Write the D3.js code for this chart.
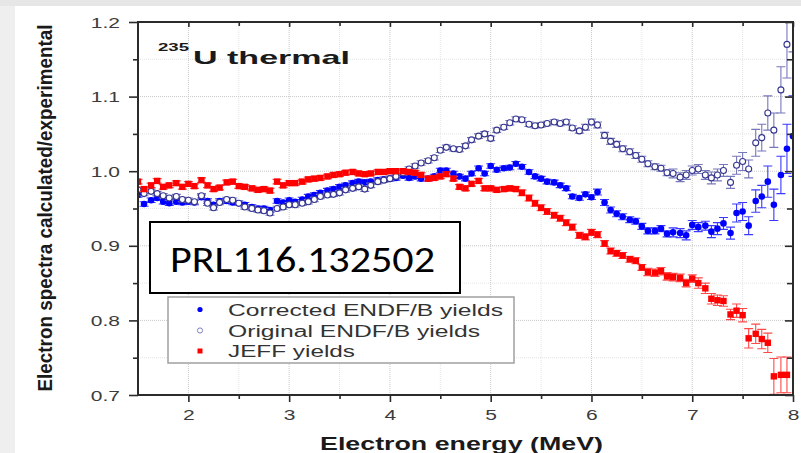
<!DOCTYPE html>
<html>
<head>
<meta charset="utf-8">
<script src="https://cdn.jsdelivr.net/npm/d3@7"></script>
<style>
  body { margin: 0; background: #e6e6e6; }
  svg { display: block; font-family: "Liberation Sans", Arial, sans-serif; }
</style>
</head>
<body>
<div id="svgRoot"></div>
<script>
// bin centres (MeV)
const energy = [1.5,1.56,1.63,1.69,1.75,1.81,1.88,1.94,
  2,2.06,2.13,2.19,2.25,2.31,2.38,2.44,2.5,2.56,2.63,2.69,2.75,2.81,2.88,2.94,
  3,3.06,3.13,3.19,3.25,3.31,3.38,3.44,3.5,3.56,3.63,3.69,3.75,3.81,3.88,3.94,
  4,4.06,4.13,4.19,4.25,4.31,4.38,4.44,4.5,4.56,4.63,4.69,4.75,4.81,4.88,4.94,
  5,5.06,5.13,5.19,5.25,5.31,5.38,5.44,5.5,5.56,5.63,5.69,5.75,5.81,5.88,5.94,
  6,6.06,6.13,6.19,6.25,6.31,6.38,6.44,6.5,6.56,6.63,6.69,6.75,6.81,6.88,6.94,
  7,7.06,7.13,7.19,7.25,7.31,7.38,7.44,7.5,7.56,7.63,7.69,7.75,7.81,7.88,7.94,8];

// corrected ENDF/B yields
const corrected = [0.968,0.956,0.961,0.964,0.959,0.957,0.959,0.958,0.959,0.958,
  0.965,0.960,0.955,0.960,0.960,0.958,0.957,0.955,0.952,0.950,
  0.950,0.948,0.960,0.958,0.961,0.959,0.962,0.966,0.968,0.971,
  0.974,0.976,0.979,0.981,0.984,0.986,0.985,0.986,0.988,0.989,
  0.990,0.991,0.994,0.991,0.993,0.990,0.990,0.993,1.001,1.001,
  0.997,0.993,0.990,0.997,1.004,0.997,1.007,1.002,1.004,1.005,
  1.010,1.006,0.999,0.993,0.990,0.986,0.985,0.981,0.977,0.966,
  0.964,0.969,0.965,0.972,0.958,0.948,0.943,0.939,0.935,0.933,
  0.926,0.920,0.920,0.923,0.916,0.918,0.917,0.914,0.928,0.925,
  0.927,0.919,0.923,0.930,0.917,0.944,0.946,0.927,0.960,0.966,
  0.986,0.955,0.995,1.030,1.047];
const correctedErr = [0.003,0.003,0.003,0.003,0.003,0.003,0.003,0.003,0.003,0.003,
  0.003,0.003,0.003,0.003,0.003,0.003,0.003,0.003,0.003,0.003,
  0.003,0.003,0.003,0.003,0.003,0.003,0.003,0.003,0.003,0.003,
  0.003,0.003,0.003,0.003,0.003,0.003,0.003,0.003,0.003,0.003,
  0.003,0.003,0.003,0.003,0.003,0.003,0.003,0.003,0.003,0.003,
  0.003,0.003,0.003,0.003,0.003,0.003,0.003,0.003,0.003,0.003,
  0.003,0.003,0.003,0.003,0.003,0.003,0.003,0.003,0.003,0.003,
  0.003,0.003,0.003,0.004,0.004,0.004,0.004,0.004,0.004,0.004,
  0.004,0.004,0.004,0.004,0.004,0.006,0.006,0.006,0.006,0.006,
  0.006,0.008,0.008,0.008,0.008,0.012,0.012,0.012,0.015,0.015,
  0.021,0.021,0.025,0.033,0.054];

// original ENDF/B yields
const original = [0.975,0.970,0.973,0.970,0.967,0.964,0.966,0.962,0.961,0.959,
  0.967,0.957,0.951,0.958,0.962,0.961,0.957,0.952,0.950,0.948,
  0.947,0.944,0.950,0.952,0.955,0.955,0.957,0.959,0.962,0.966,
  0.968,0.969,0.971,0.975,0.977,0.979,0.976,0.981,0.986,0.988,
  0.990,0.993,0.998,1.003,1.007,1.011,1.014,1.018,1.028,1.032,
  1.030,1.029,1.034,1.042,1.047,1.050,1.044,1.055,1.059,1.065,
  1.070,1.069,1.063,1.061,1.062,1.064,1.066,1.064,1.066,1.058,
  1.054,1.059,1.066,1.062,1.048,1.040,1.036,1.030,1.026,1.021,
  1.016,1.010,1.006,1.004,0.998,0.997,0.992,0.995,1.001,1.003,
  0.995,0.991,0.995,1.001,0.985,1.008,1.013,1.003,1.038,1.045,
  1.078,1.055,1.109,1.170,1.220];
const originalErr = [0.003,0.003,0.003,0.003,0.003,0.003,0.003,0.003,0.003,0.003,
  0.003,0.003,0.003,0.003,0.003,0.003,0.003,0.003,0.003,0.003,
  0.003,0.003,0.003,0.003,0.003,0.003,0.003,0.003,0.003,0.003,
  0.003,0.003,0.003,0.003,0.003,0.003,0.003,0.003,0.003,0.003,
  0.003,0.003,0.003,0.003,0.003,0.003,0.003,0.003,0.003,0.003,
  0.003,0.003,0.003,0.003,0.003,0.003,0.003,0.003,0.003,0.003,
  0.003,0.003,0.003,0.003,0.003,0.003,0.003,0.003,0.003,0.003,
  0.003,0.004,0.004,0.004,0.004,0.004,0.004,0.004,0.004,0.004,
  0.004,0.004,0.004,0.004,0.004,0.006,0.006,0.006,0.006,0.006,
  0.006,0.008,0.008,0.008,0.008,0.012,0.012,0.012,0.018,0.018,
  0.023,0.023,0.031,0.045,0.060];

// JEFF yields
const jeff = [0.986,0.976,0.981,0.987,0.979,0.981,0.984,0.979,0.983,0.980,
  0.988,0.981,0.976,0.978,0.985,0.986,0.980,0.979,0.977,0.975,
  0.976,0.974,0.986,0.981,0.984,0.984,0.986,0.989,0.990,0.991,
  0.993,0.995,0.996,0.998,0.999,0.997,0.996,0.997,0.999,0.999,
  1.000,1.000,1.000,0.999,0.998,0.995,0.990,0.991,0.993,0.996,
  0.990,0.979,0.977,0.983,0.987,0.977,0.977,0.975,0.976,0.977,
  0.976,0.971,0.964,0.957,0.951,0.946,0.941,0.937,0.931,0.925,
  0.914,0.912,0.918,0.915,0.903,0.893,0.890,0.887,0.882,0.880,
  0.871,0.865,0.864,0.866,0.859,0.858,0.857,0.850,0.856,0.850,
  0.843,0.829,0.827,0.826,0.808,0.813,0.807,0.776,0.782,0.775,
  0.770,0.725,0.727,0.727,null];
const jeffErr = [0.003,0.003,0.003,0.003,0.003,0.003,0.003,0.003,0.003,0.003,
  0.003,0.003,0.003,0.003,0.003,0.003,0.003,0.003,0.003,0.003,
  0.003,0.003,0.003,0.003,0.003,0.003,0.003,0.003,0.003,0.003,
  0.003,0.003,0.003,0.003,0.003,0.003,0.003,0.003,0.003,0.003,
  0.003,0.003,0.003,0.003,0.003,0.003,0.003,0.003,0.003,0.003,
  0.003,0.003,0.003,0.003,0.003,0.003,0.003,0.003,0.003,0.003,
  0.003,0.004,0.004,0.004,0.004,0.004,0.004,0.004,0.004,0.004,
  0.004,0.004,0.004,0.004,0.004,0.004,0.004,0.004,0.004,0.004,
  0.004,0.005,0.005,0.005,0.005,0.005,0.005,0.005,0.005,0.007,
  0.007,0.007,0.007,0.007,0.007,0.009,0.009,0.013,0.013,0.013,
  0.013,0.024,0.024,0.024,null];

const xTicks = [2, 3, 4, 5, 6, 7, 8];
const xMinor = [2.5, 3.5, 4.5, 5.5, 6.5, 7.5];
const yTicks = [0.7, 0.8, 0.9, 1.0, 1.1, 1.2];
const yMinor = [0.75, 0.85, 0.95, 1.05, 1.15];
const legendLabels = ["Corrected ENDF/B yields", "Original ENDF/B yields", "JEFF yields"];

drawChart();

function drawChart() {
  var W = 801, H = 453;
  var left = 138, right = 793, top = 22, bottom = 395;

  var svg = d3.select("#svgRoot").append("svg")
    .attr("width", W).attr("height", H);

  // slide background + white picture
  svg.append("rect").attr("width", W).attr("height", H).attr("fill", "#e6e6e6");
  svg.append("rect").attr("x", 0).attr("y", 6).attr("width", 15).attr("height", H - 6).attr("fill", "#efefef");
  svg.append("rect").attr("x", 15).attr("y", 6).attr("width", W - 15).attr("height", H - 6).attr("fill", "#fff");

  var x = d3.scaleLinear().domain([1.5, 8]).range([left, right]);
  var y = d3.scaleLinear().domain([0.7, 1.2]).range([bottom, top]);

  // stretch horizontal text like the original (figure was squeezed wide)
  function stretch(sel, k) {
    sel.each(function () {
      var w = this.getComputedTextLength();
      d3.select(this).attr("textLength", w * k).attr("lengthAdjust", "spacingAndGlyphs");
    });
  }

  // grid
  var grid = svg.append("g");
  grid.selectAll(".gxm").data(xMinor).enter().append("line")
    .attr("x1", d => x(d)).attr("x2", d => x(d)).attr("y1", top).attr("y2", bottom)
    .attr("stroke", "#e4e4e4").attr("stroke-dasharray", "1,1");
  grid.selectAll(".gym").data(yMinor).enter().append("line")
    .attr("y1", d => y(d)).attr("y2", d => y(d)).attr("x1", left).attr("x2", right)
    .attr("stroke", "#e4e4e4").attr("stroke-dasharray", "1,1");
  grid.selectAll(".gx").data(xTicks.slice(0, -1)).enter().append("line")
    .attr("x1", d => x(d)).attr("x2", d => x(d)).attr("y1", top).attr("y2", bottom)
    .attr("stroke", "#c8c8c8").attr("stroke-dasharray", "1,1");
  grid.selectAll(".gy").data(yTicks.slice(1, -1)).enter().append("line")
    .attr("y1", d => y(d)).attr("y2", d => y(d)).attr("x1", left).attr("x2", right)
    .attr("stroke", "#c8c8c8").attr("stroke-dasharray", "1,1");

  // series
  var series = [
    { name: legendLabels[0], values: corrected, err: correctedErr, color: "#0000ff", bar: "#3a3aff", kind: "dot" },
    { name: legendLabels[1], values: original, err: originalErr, color: "#35358f", bar: "#7777bb", kind: "open" },
    { name: legendLabels[2], values: jeff, err: jeffErr, color: "#ff0000", bar: "#ff4a4a", kind: "square" }
  ];

  svg.append("clipPath").attr("id", "plotClip")
    .append("rect").attr("x", left).attr("y", top).attr("width", right - left).attr("height", bottom - top);

  var plot = svg.append("g").attr("clip-path", "url(#plotClip)");

  series.forEach(function (s) {
    var pts = energy.map((e, i) => ({ e: e, v: s.values[i], err: s.err[i] }))
      .filter(d => d.v != null);
    var g = plot.append("g");
    var cap = 4.5;
    g.selectAll(".eb").data(pts).enter().append("path")
      .attr("d", d => {
        var xx = x(d.e), y1 = y(d.v - d.err), y2 = y(d.v + d.err);
        return "M" + xx + "," + y1 + "V" + y2 +
          "M" + (xx - cap) + "," + y1 + "H" + (xx + cap) +
          "M" + (xx - cap) + "," + y2 + "H" + (xx + cap);
      })
      .attr("fill", "none").attr("stroke", s.bar).attr("stroke-width", 1.1);
    if (s.kind == "square") {
      g.selectAll(".pt").data(pts).enter().append("rect")
        .attr("x", d => x(d.e) - 3.2).attr("y", d => y(d.v) - 3.2)
        .attr("width", 6.4).attr("height", 6.4).attr("fill", s.color);
    } else {
      g.selectAll(".pt").data(pts).enter().append("circle")
        .attr("cx", d => x(d.e)).attr("cy", d => y(d.v)).attr("r", s.kind == "open" ? 3 : 3.3)
        .attr("fill", s.kind == "open" ? "#fff" : s.color)
        .attr("stroke", s.color).attr("stroke-width", s.kind == "open" ? 1.1 : 0);
    }
  });

  // axes
  var axisColor = "#2b2b2b";
  function styleAxis(g) {
    g.select(".domain").remove();
    g.selectAll("line").attr("stroke", axisColor).attr("stroke-width", 1.6);
    g.selectAll("text").attr("fill", "#3c3c3c").style("font-size", "14px")
      .style("font-family", '"Liberation Sans", Arial, sans-serif');
  }

  var gl = svg.append("g").attr("transform", "translate(" + left + ",0)")
    .call(d3.axisLeft(y).tickValues(yTicks).tickSize(9).tickPadding(9).tickFormat(d3.format(".1f")));
  styleAxis(gl);
  gl.selectAll("text").attr("dy", "0.36em");
  stretch(gl.selectAll("text"), 1.5);
  svg.append("g").attr("transform", "translate(" + left + ",0)")
    .call(d3.axisLeft(y).tickValues(yMinor).tickSize(5).tickFormat("")).call(styleAxis);

  var gb = svg.append("g").attr("transform", "translate(0," + bottom + ")")
    .call(d3.axisBottom(x).tickValues(xTicks).tickSize(7).tickPadding(8).tickFormat(d3.format("d")));
  styleAxis(gb);
  stretch(gb.selectAll("text"), 1.5);
  svg.append("g").attr("transform", "translate(0," + bottom + ")")
    .call(d3.axisBottom(x).tickValues(xMinor).tickSize(4).tickFormat("")).call(styleAxis);

  // inward ticks on top and right
  svg.append("g").attr("transform", "translate(0," + top + ")")
    .call(d3.axisTop(x).tickValues(xTicks).tickSize(-5).tickFormat("")).call(styleAxis);
  svg.append("g").attr("transform", "translate(0," + top + ")")
    .call(d3.axisTop(x).tickValues(xMinor).tickSize(-4).tickFormat("")).call(styleAxis);
  svg.append("g").attr("transform", "translate(" + right + ",0)")
    .call(d3.axisRight(y).tickValues(yTicks).tickSize(-8).tickFormat("")).call(styleAxis);
  svg.append("g").attr("transform", "translate(" + right + ",0)")
    .call(d3.axisRight(y).tickValues(yMinor).tickSize(-6).tickFormat("")).call(styleAxis);

  svg.append("rect").attr("x", left).attr("y", top).attr("width", right - left).attr("height", bottom - top)
    .attr("fill", "none").attr("stroke", axisColor).attr("stroke-width", 2);

  // title
  svg.append("text").text("235").attr("x", 158).attr("y", 51)
    .attr("font-weight", "bold").style("font-size", "11px").attr("fill", "#1a1a1a")
    .attr("textLength", 31).attr("lengthAdjust", "spacingAndGlyphs");
  svg.append("text").text("U thermal").attr("x", 193).attr("y", 64)
    .attr("font-weight", "bold").style("font-size", "19px").attr("fill", "#1a1a1a")
    .attr("textLength", 157).attr("lengthAdjust", "spacingAndGlyphs");

  // axis titles
  svg.append("text").text("Electron spectra calculated/experimental")
    .attr("text-anchor", "middle")
    .attr("transform", "translate(52,208) rotate(-90) scale(1,1.45)")
    .attr("font-weight", "bold").style("font-size", "14px").attr("fill", "#1a1a1a")
    .attr("textLength", 367).attr("lengthAdjust", "spacingAndGlyphs");
  svg.append("text").text("Electron energy (MeV)")
    .attr("x", 320).attr("y", 450)
    .attr("font-weight", "bold").style("font-size", "18px").attr("fill", "#1a1a1a")
    .attr("textLength", 283).attr("lengthAdjust", "spacingAndGlyphs");

  // reference box
  svg.append("rect").attr("x", 150).attr("y", 222).attr("width", 310).attr("height", 71)
    .attr("fill", "#fff").attr("stroke", "#000").attr("stroke-width", 2);
  svg.append("text").text("PRL116.132502").attr("x", 170).attr("y", 272)
    .style("font-family", "Carlito, Lato, sans-serif").style("font-size", "37px").attr("fill", "#000")
    .attr("textLength", 265).attr("lengthAdjust", "spacingAndGlyphs");

  // legend
  var lg = svg.append("g");
  lg.append("rect").attr("x", 168).attr("y", 297).attr("width", 346).attr("height", 66)
    .attr("fill", "#fff").attr("stroke", "#a0a0a0").attr("stroke-width", 1.5);
  var rowY = [309.5, 330.5, 351];
  var lens = [275, 252, 127];
  series.forEach(function (s, i) {
    if (s.kind == "square") {
      lg.append("rect").attr("x", 197.5).attr("y", rowY[i] - 2.5).attr("width", 5).attr("height", 5).attr("fill", s.color);
    } else {
      lg.append("circle").attr("cx", 200).attr("cy", rowY[i]).attr("r", 2.6)
        .attr("fill", s.kind == "open" ? "#fff" : s.color)
        .attr("stroke", s.kind == "open" ? "#8080c0" : "none").attr("stroke-width", 1);
    }
    lg.append("text").text(s.name).attr("x", 228).attr("y", rowY[i] + 6)
      .style("font-size", "16px").attr("fill", "#333")
      .attr("textLength", lens[i]).attr("lengthAdjust", "spacingAndGlyphs");
  });
}
</script>
</body>
</html>
